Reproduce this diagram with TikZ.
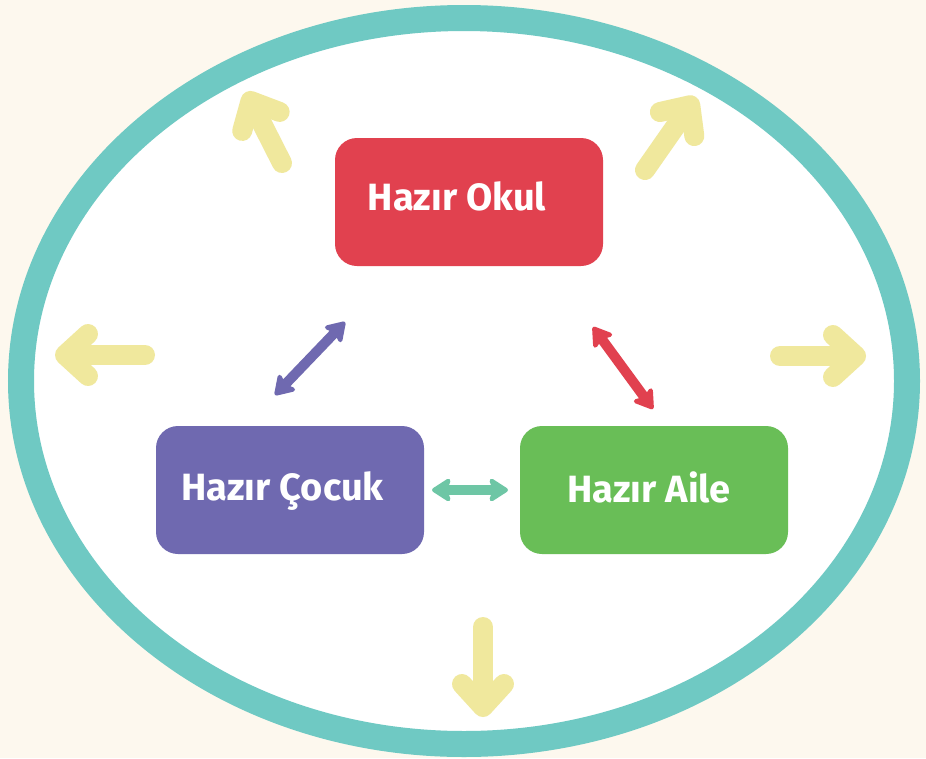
\documentclass[tikz,border=0pt]{standalone}
\usepackage{fontspec}
\setmainfont{Fira Sans}
\usetikzlibrary{arrows.meta}

\definecolor{bgcream}{HTML}{FDF8EE}
\definecolor{ringteal}{HTML}{6FC9C3}
\definecolor{outyellow}{HTML}{F0E89D}
\definecolor{okulred}{HTML}{E1414F}
\definecolor{cocukpurple}{HTML}{6F69B0}
\definecolor{ailegreen}{HTML}{69BE57}
\definecolor{linkgreen}{HTML}{6EC6A5}

\begin{document}
\begin{tikzpicture}[x=1pt, y=-1pt,
    box/.style={rounded corners=22pt, minimum width=268pt, minimum height=128pt, inner sep=0pt},
    boxlabel/.style={text=white, font=\fontsize{38}{44}\selectfont\bfseries, text height=26pt, text depth=0pt, inner sep=0pt},
    outarrow/.style={draw=outyellow, line width=20pt, line cap=round, line join=round, arrows=-{Straight Barb[round, length=23pt, width=42pt]}},
    link/.style={line width=10pt, >={Stealth[round, length=22pt, width=28pt, inset=5pt]}, <->}
  ]
            \fill[bgcream] (0,0) rectangle (926,758);

            \coordinate (c) at (464,381);

            \draw[ringteal, line width=26pt, fill=white] (c) ellipse [x radius=443, y radius=363];

            \coordinate (l0) at (145,355);
            \coordinate (l1) at (55,355);
            \coordinate (r0) at (780,356);
            \coordinate (r1) at (866,356);
            \coordinate (b0) at (483,627);
            \coordinate (b1) at (483,717);
            \coordinate (tl0) at (282,163);
            \coordinate (tl1) at (246,92);
            \coordinate (tr0) at (645,170);
            \coordinate (tr1) at (696,97);

            \draw[outarrow] (l0) -- (l1);
            \draw[outarrow] (r0) -- (r1);
            \draw[outarrow] (b0) -- (b1);
            \draw[outarrow] (tl0) -- (tl1);
            \draw[outarrow] (tr0) -- (tr1);

            \node[box, fill=okulred, label={[boxlabel, xshift=-12pt, yshift=4.5pt]center:Hazır Okul}] (okul) at (469,202) {};
            \node[box, fill=cocukpurple, label={[boxlabel, xshift=-7.5pt, yshift=3pt]center:Hazır Çocuk}] (cocuk) at (290,490) {};
            \node[box, fill=ailegreen, label={[boxlabel, xshift=-5pt, yshift=0.5pt]center:Hazır Aile}] (aile) at (654,490) {};

            \coordinate (co0) at (275,395);
            \coordinate (co1) at (345,322);
            \coordinate (oa0) at (593,327);
            \coordinate (oa1) at (653,409);
            \coordinate (ca0) at (432,490);
            \coordinate (ca1) at (508,490);

            \draw[link, cocukpurple] (co0) -- (co1);
            \draw[link, okulred] (oa0) -- (oa1);
            \draw[link, linkgreen] (ca0) -- (ca1);
        \end{tikzpicture}
\end{document}
